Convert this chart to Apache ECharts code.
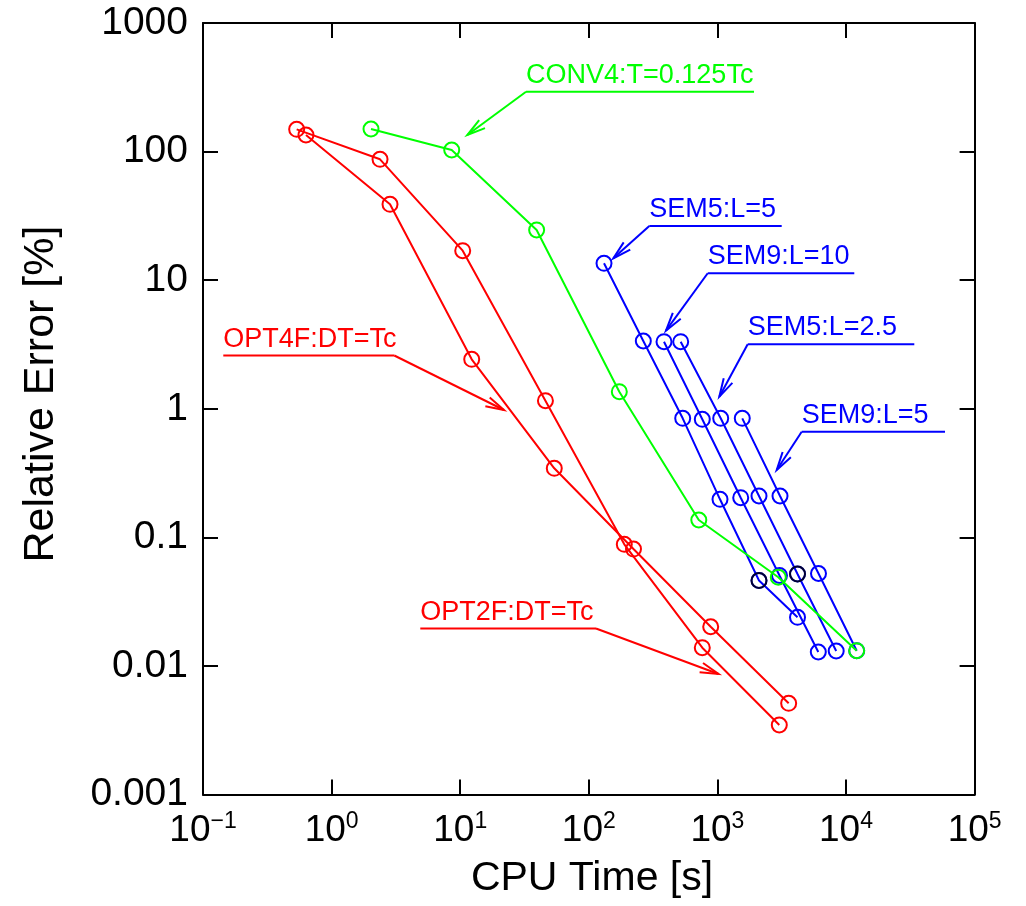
<!DOCTYPE html>
<html><head><meta charset="utf-8">
<script src="https://cdn.jsdelivr.net/npm/echarts@6/dist/echarts.min.js"></script>
<style>html,body{margin:0;padding:0;background:#fff}#c{width:1026px;height:906px}</style>
</head><body><div id="c"></div>
<script>
// ---- tick labels ----
const xTickExponents = [-1, 0, 1, 2, 3, 4, 5];
const xTickExpLabels = ['\u22121', '0', '1', '2', '3', '4', '5'];
const yTickValues = [0.001, 0.01, 0.1, 1, 10, 100, 1000];
const yTickLabels = ['0.001', '0.01', '0.1', '1', '10', '100', '1000'];

// ---- series values (CPU time [s], relative error [%]) ----
const opt2fTime  = [0.535, 2.38, 10.46, 46.0, 188.8, 763, 3029];
const opt2fError = [149, 87.1, 16.96, 1.156, 0.0884, 0.01388, 0.003476];
const opt4fTime  = [0.632, 2.846, 12.29, 53.9, 222.6, 887, 3582];
const opt4fError = [134.6, 38.9, 2.427, 0.3446, 0.0812, 0.0202, 0.00513];
const conv4Time  = [2.025, 8.59, 39.3, 172.7, 716.8, 2975, 12112];
const conv4Error = [149.9, 102.9, 24.6, 1.358, 0.1366, 0.0490, 0.01315];
const sem5L5Time   = [131.3, 265.4, 537.3, 1047.6, 2106, 4197];
const sem5L5Error  = [13.53, 3.367, 0.8434, 0.1978, 0.04623, 0.02392];
const sem9L10Time  = [384.4, 763, 1518, 3040, 6089];
const sem9L10Error = [3.325, 0.8286, 0.2035, 0.05056, 0.01285];
const sem5L25Time  = [518.3, 1061, 2106, 4197, 8389];
const sem5L25Error = [3.325, 0.8434, 0.2099, 0.05193, 0.01308];
const sem9L5Time   = [1561, 3068, 6112, 12112];
const sem9L5Error  = [0.8434, 0.2099, 0.0524, 0.01315];
const blackTime  = [2106, 4197];
const blackError = [0.04623, 0.05193];

// ---- annotations (data coordinates) ----
const annotText  = ['CONV4:T=0.125Tc', 'SEM5:L=5', 'SEM9:L=10', 'SEM5:L=2.5', 'SEM9:L=5', 'OPT4F:DT=Tc', 'OPT2F:DT=Tc'];
const annotColor = ['#00ff00', '#0000ff', '#0000ff', '#0000ff', '#0000ff', '#ff0000', '#ff0000'];
const annotUnderLeft  = [32.5, 295.5, 840.7, 1720, 4524, 0.1438, 4.894];
const annotUnderRight = [1926, 3162, 11600, 33970, 58870, 3.073, 113.8];
const annotUnderY     = [292.3, 26.4, 11.32, 3.174, 0.6638, 2.597, 0.01957];
const annotTipX = [11.36, 155.1, 398.3, 1035, 2892, 21.9, 1020];
const annotTipY = [134.6, 14.8, 4.05, 1.242, 0.3343, 0.979, 0.00867];
const annotFrom = ['left', 'left', 'left', 'left', 'left', 'right', 'right'];

const FONT = 'Liberation Sans, Arial, Helvetica, sans-serif';
const RED = '#ff0000', GREEN = '#00ff00', BLUE = '#0000ff', BLACK = '#000000';

function pairs(xs, ys) { return xs.map((x, i) => [x, ys[i]]); }
function lineSeries(name, xs, ys, color, z) {
  return {
    name: name, type: 'line', data: pairs(xs, ys), z: z,
    symbol: 'circle', symbolSize: 15, showAllSymbol: true,
    lineStyle: { color: color, width: 2 },
    itemStyle: { color: 'rgba(0,0,0,0)', borderColor: color, borderWidth: 2 },
    emphasis: { disabled: true }, silent: true, animation: false
  };
}

const axisCommon = {
  axisLine: { show: true, onZero: false, lineStyle: { color: '#000', width: 2 } },
  axisTick: { show: true, inside: true, length: 15, lineStyle: { color: '#000', width: 2 } },
  minorTick: { show: false },
  splitLine: { show: false }
};

const chart = echarts.init(document.getElementById('c'), null, { renderer: 'canvas' });
const option = {
  animation: false,
  backgroundColor: '#fff',
  grid: { left: 203, top: 23, width: 771.6, height: 771.6, containLabel: false },
  xAxis: [
    Object.assign({
      type: 'log', logBase: 10, min: 0.1, max: 1e5, interval: 1, position: 'bottom',
      axisLabel: {
        show: true, margin: 16, color: '#000', fontFamily: FONT,
        formatter: function (v) {
          const e = Math.round(Math.log10(v));
          const i = xTickExponents.indexOf(e);
          return '{b|10}{e|' + (i >= 0 ? xTickExpLabels[i] : e) + '}';
        },
        rich: {
          b: { fontSize: 37, fontFamily: FONT, color: '#000', lineHeight: 40 },
          e: { fontSize: 23, fontFamily: FONT, color: '#000', verticalAlign: 'top', lineHeight: 26 }
        }
      }
    }, axisCommon),
    Object.assign({
      type: 'log', logBase: 10, min: 0.1, max: 1e5, interval: 1, position: 'top',
      axisLabel: { show: false }
    }, axisCommon)
  ],
  yAxis: [
    Object.assign({
      type: 'log', logBase: 10, min: 0.001, max: 1000, interval: 1, position: 'left',
      axisLabel: {
        show: true, margin: 15, color: '#000', fontFamily: FONT, fontSize: 39,
        formatter: function (v) {
          const i = Math.round(Math.log10(v)) + 3;
          return yTickLabels[i] !== undefined ? yTickLabels[i] : String(v);
        }
      }
    }, axisCommon),
    Object.assign({
      type: 'log', logBase: 10, min: 0.001, max: 1000, interval: 1, position: 'right',
      axisLabel: { show: false }
    }, axisCommon)
  ],
  series: [
    lineSeries('OPT2F:DT=Tc', opt2fTime, opt2fError, RED, 2),
    lineSeries('OPT4F:DT=Tc', opt4fTime, opt4fError, RED, 2),
    lineSeries('SEM5:L=5', sem5L5Time, sem5L5Error, BLUE, 3),
    lineSeries('SEM9:L=10', sem9L10Time, sem9L10Error, BLUE, 3),
    lineSeries('SEM5:L=2.5', sem5L25Time, sem5L25Error, BLUE, 3),
    lineSeries('SEM9:L=5', sem9L5Time, sem9L5Error, BLUE, 3),
    lineSeries('CONV4:T=0.125Tc', conv4Time, conv4Error, GREEN, 4),
    {
      name: 'black', type: 'scatter', data: pairs(blackTime, blackError), z: 5,
      symbol: 'circle', symbolSize: 15,
      itemStyle: { color: 'rgba(0,0,0,0)', borderColor: BLACK, borderWidth: 2 },
      emphasis: { disabled: true }, silent: true
    }
  ]
};
chart.setOption(option);

// ---- annotations & axis titles ----
function px(x, y) { return chart.convertToPixel({ xAxisIndex: 0, yAxisIndex: 0 }, [x, y]); }
const graphics = [];
const AFS = 27;
for (let i = 0; i < annotText.length; i++) {
  const c = annotColor[i];
  const pL = px(annotUnderLeft[i], annotUnderY[i]);
  const pR = px(annotUnderRight[i], annotUnderY[i]);
  const tip = px(annotTipX[i], annotTipY[i]);
  const start = annotFrom[i] === 'left' ? pL : pR;
  graphics.push({ type: 'polyline', silent: true, z: 10,
    shape: { points: [pL, pR] }, style: { stroke: c, lineWidth: 2, fill: null } });
  graphics.push({ type: 'polyline', silent: true, z: 10,
    shape: { points: [start, tip] }, style: { stroke: c, lineWidth: 2, fill: null } });
  const ang = Math.atan2(start[1] - tip[1], start[0] - tip[0]);
  const L = 19, spread = 15 * Math.PI / 180;
  const a1 = [tip[0] + L * Math.cos(ang + spread), tip[1] + L * Math.sin(ang + spread)];
  const a2 = [tip[0] + L * Math.cos(ang - spread), tip[1] + L * Math.sin(ang - spread)];
  graphics.push({ type: 'polyline', silent: true, z: 10,
    shape: { points: [a1, tip, a2] }, style: { stroke: c, lineWidth: 2, fill: null } });
  graphics.push({ type: 'text', silent: true, z: 10,
    x: pL[0] + 0, y: pL[1] - 8 - 0.31 * AFS,
    style: { text: annotText[i], fill: c, font: AFS + 'px ' + FONT, textAlign: 'left', textVerticalAlign: 'middle' } });
}
graphics.push({ type: 'text', silent: true, x: 592, y: 879,
  style: { text: 'CPU Time [s]', fill: '#000', font: '41px ' + FONT, textAlign: 'center', textVerticalAlign: 'middle' } });
graphics.push({ type: 'text', silent: true, x: 41, y: 394, rotation: Math.PI / 2,
  style: { text: 'Relative Error [%]', fill: '#000', font: '43px ' + FONT, textAlign: 'center', textVerticalAlign: 'middle' } });
chart.setOption({ graphic: graphics });
</script>
</body></html>
